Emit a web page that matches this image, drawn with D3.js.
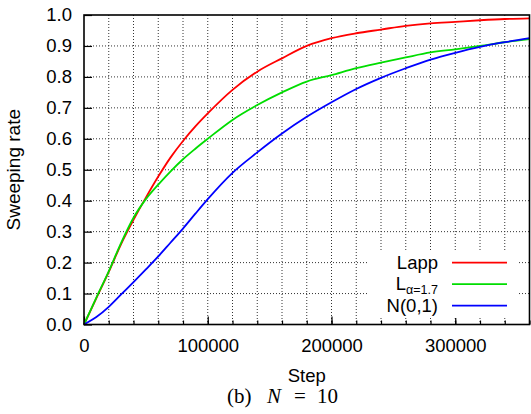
<!DOCTYPE html>
<html>
<head>
<meta charset="utf-8">
<style>
body { margin: 0; background: #fff; }
text { font-family: "Liberation Sans", Arial, sans-serif; fill: #000; }
.grid line { stroke: #333; stroke-width: 1px; stroke-dasharray: 1, 2; }
.axis path { display: none; }
.axis line { stroke: #000; stroke-width: 1.2px; }
.axis text { font-size: 18.5px; }
.curve { fill: none; stroke-width: 1.8px; }
</style>
</head>
<body>
<div id="chart"></div>
<script src="https://cdn.jsdelivr.net/npm/d3@7/dist/d3.min.js"></script>
<script>
// values
var steps = [0, 10000, 20000, 30000, 40000, 50000, 60000, 70000, 80000, 90000, 100000,
    120000, 140000, 160000, 180000, 200000, 220000, 240000, 260000, 280000, 300000,
    320000, 340000, 360000];
var lapp = [0, 0.085, 0.17, 0.26, 0.338, 0.41, 0.478, 0.54, 0.593, 0.64, 0.682,
    0.758, 0.817, 0.860, 0.900, 0.925, 0.941, 0.953, 0.965, 0.973, 0.978,
    0.983, 0.987, 0.989];
var levy = [0, 0.087, 0.172, 0.264, 0.345, 0.405, 0.452, 0.495, 0.534, 0.568, 0.600,
    0.661, 0.709, 0.750, 0.785, 0.806, 0.828, 0.846, 0.863, 0.879, 0.889,
    0.900, 0.912, 0.922];
var normal = [0, 0.024, 0.057, 0.097, 0.137, 0.178, 0.220, 0.265, 0.310, 0.358, 0.405,
    0.490, 0.556, 0.617, 0.671, 0.718, 0.761, 0.797, 0.828, 0.856, 0.878,
    0.897, 0.912, 0.925];
var seriesNames = ["Lapp", "L", "N(0,1)"];
var seriesColors = ["#ff0000", "#00dd00", "#0000ff"];
var xMajorTicks = [0, 100000, 200000, 300000];
var xMinorTicks = d3.range(0, 360001, 20000);
var yTicks = d3.range(0, 11).map(function(i) { return i / 10; });

var width = 531,
    height = 414,
    margin = { left: 84, top: 15, right: 1.5, bottom: 89.5 },
    g_width = width - margin.left - margin.right,
    g_height = height - margin.top - margin.bottom;

var svg = d3.select("#chart")
    .append("svg")
    .attr("width", width)
    .attr("height", height);

var g = svg.append("g")
    .attr("transform", "translate(" + margin.left + "," + margin.top + ")");

var scale_x = d3.scaleLinear().domain([0, 360000]).range([0, g_width]);
var scale_y = d3.scaleLinear().domain([0, 1]).range([g_height, 0]);

// dotted grid
var grid = g.append("g").attr("class", "grid");
grid.selectAll(".gx")
    .data(xMinorTicks.filter(function(d) { return d > 0 && d < 360000; }))
    .enter().append("line")
    .attr("x1", d => scale_x(d)).attr("x2", d => scale_x(d))
    .attr("y1", 0).attr("y2", g_height);
grid.selectAll(".gy")
    .data(yTicks.filter(function(d) { return d > 0 && d < 1; }))
    .enter().append("line")
    .attr("x1", 0).attr("x2", g_width)
    .attr("y1", d => scale_y(d)).attr("y2", d => scale_y(d));

// axes, ticks pointing inward
g.append("g")
    .attr("class", "axis")
    .call(d3.axisLeft(scale_y).tickValues(yTicks).tickSize(-8).tickPadding(12)
        .tickFormat(d3.format(".1f")));

g.append("g")
    .attr("class", "axis")
    .attr("transform", "translate(0," + g_height + ")")
    .call(d3.axisBottom(scale_x).tickValues(xMinorTicks).tickSize(-4).tickFormat(""));

g.append("g")
    .attr("class", "axis")
    .attr("transform", "translate(0," + g_height + ")")
    .call(d3.axisBottom(scale_x).tickValues(xMajorTicks).tickSize(-8).tickPadding(14)
        .tickFormat(d3.format("d")));

// legend box (opaque, covers grid)
var legend = g.append("g")
    .attr("transform", "translate(" + (368 - margin.left) + "," + (251 - margin.top) + ")");
legend.append("rect")
    .attr("width", 149).attr("height", 67)
    .attr("fill", "#fff");

var series = [lapp, levy, normal];
var line_generator = d3.line()
    .x(function(d, i) { return scale_x(steps[i]); })
    .y(function(d) { return scale_y(d); })
    .curve(d3.curveMonotoneX);

g.selectAll(".curve")
    .data(series)
    .enter().append("path")
    .attr("class", "curve")
    .attr("stroke", (d, i) => seriesColors[i])
    .attr("d", d => line_generator(d));

var rows = legend.selectAll(".row")
    .data(seriesNames)
    .enter().append("g")
    .attr("transform", (d, i) => "translate(0," + (11.7 + i * 21.5) + ")");
rows.append("line")
    .attr("x1", 84).attr("x2", 139)
    .attr("stroke", (d, i) => seriesColors[i])
    .attr("stroke-width", 1.8);
var lt = rows.append("text")
    .attr("x", 70).attr("y", 6)
    .attr("text-anchor", "end")
    .style("font-size", "18.5px");
lt.append("tspan").text(d => d);
lt.filter((d, i) => i === 1)
    .append("tspan")
    .attr("dy", 4)
    .style("font-size", "12.5px")
    .text("α=1.7");

// frame
g.append("rect")
    .attr("width", g_width).attr("height", g_height)
    .attr("fill", "none")
    .attr("stroke", "#000")
    .attr("stroke-width", 1.6);

// axis titles
svg.append("text")
    .attr("transform", "rotate(-90)")
    .attr("x", -(margin.top + g_height / 2))
    .attr("y", 20)
    .attr("text-anchor", "middle")
    .style("font-size", "19px")
    .text("Sweeping rate");

svg.append("text")
    .attr("x", margin.left + g_width / 2)
    .attr("y", 382)
    .attr("text-anchor", "middle")
    .style("font-size", "18.5px")
    .text("Step");

// caption, LaTeX-like spacing
var cap = svg.append("text")
    .attr("y", 403)
    .style("font-family", "'Liberation Serif', 'DejaVu Serif', serif")
    .style("font-size", "21px");
cap.append("tspan").attr("x", 227).text("(b)");
cap.append("tspan").attr("x", 267).style("font-style", "italic").text("N");
cap.append("tspan").attr("x", 294).text("=");
cap.append("tspan").attr("x", 317).text("10");
</script>
</body>
</html>
